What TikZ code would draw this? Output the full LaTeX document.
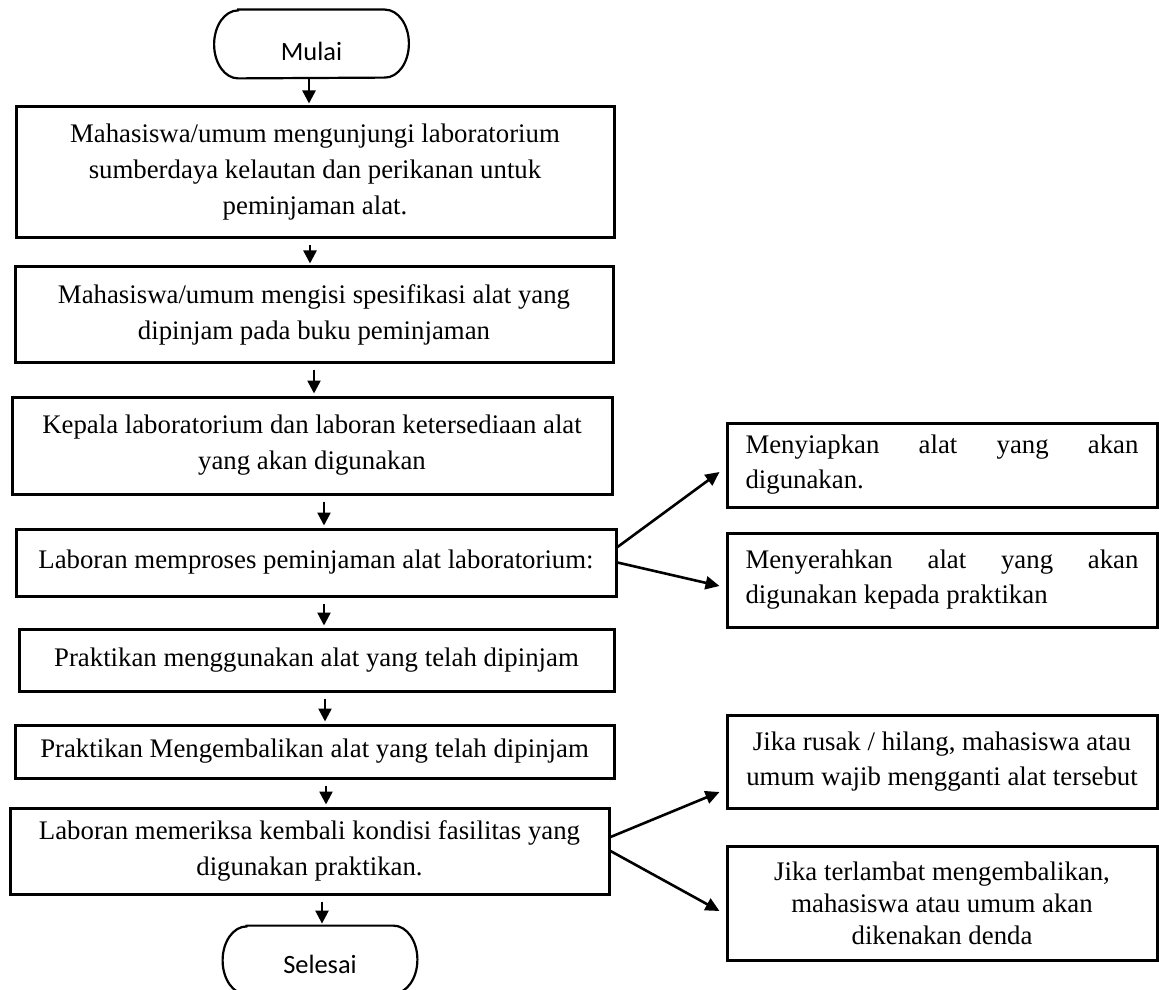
\documentclass[tikz,border=0pt]{standalone}
\usepackage{fontspec}
\setmainfont{Liberation Serif}
\newfontfamily\termfont{Carlito}
\usetikzlibrary{arrows.meta,calc}
\hyphenpenalty=10000
\tolerance=10000
% outline of a start/end terminator around a named node
\newcommand\termoutline[1]{%
  \draw[termline] ($(#1.north west)+(12pt,0)$) -- ($(#1.north east)+(-12pt,0)$)
    arc[start angle=90,end angle=-90,x radius=12pt,y radius=17pt]
    -- ($(#1.south west)+(12pt,0)$)
    arc[start angle=270,end angle=90,x radius=12pt,y radius=17pt] -- cycle;}
\begin{document}
\begin{tikzpicture}[x=0.5pt,y=-0.5pt,
  stepbox/.style={draw, line width=1.5pt, inner sep=0pt, align=center,
    font=\fontsize{13.4pt}{18pt}\selectfont},
  sidebox/.style={draw, line width=1.5pt, inner sep=0pt, minimum width=215pt,
    font=\fontsize{13.4pt}{17.5pt}\selectfont},
  termnode/.style={inner sep=0pt, minimum width=97pt, minimum height=34pt},
  termtext/.style={inner sep=0pt, font=\termfont\fontsize{13.2pt}{15pt}\selectfont},
  termline/.style={line width=1.1pt},
  flow/.style={line width=1.2pt, -{Triangle[length=6.5pt,width=6.5pt]},
    shorten <=3pt, shorten >=1pt},
  branch/.style={line width=1.3pt, -{Triangle[length=7pt,width=6.5pt]}}
]
\useasboundingbox (0,0) rectangle (1159,989);

% terminators
\node[termnode] (mulai) at (311.5,44) {};
\termoutline{mulai}
\node[termtext] (mulai-t) at (311.5,51) {Mulai};

\node[termnode] (selesai) at (320,960) {};
\termoutline{selesai}
\node[termtext] (selesai-t) at (320,964) {Selesai};

% main column
\node[stepbox, minimum width=299pt, minimum height=65.5pt] (b1) at (315,172.5)
  {Mahasiswa/umum mengunjungi laboratorium\\sumberdaya kelautan dan perikanan untuk\\peminjaman alat.};
\node[stepbox, minimum width=299pt, minimum height=47.5pt] (b2) at (314,314.5)
  {Mahasiswa/umum mengisi spesifikasi alat yang\\dipinjam pada buku peminjaman};
\node[stepbox, minimum width=300pt, minimum height=48.5pt] (b3) at (312,445.5)
  {Kepala laboratorium dan laboran ketersediaan alat\\yang akan digunakan};
\node[stepbox, minimum width=300pt, minimum height=33.5pt] (b4) at (316,562.5)
  {Laboran memproses peminjaman alat laboratorium:};
\node[stepbox, minimum width=297.5pt, minimum height=31pt] (b5) at (316.5,660)
  {Praktikan menggunakan alat yang telah dipinjam};
\node[stepbox, minimum width=299.5pt, minimum height=26.5pt] (b6) at (314.5,751.5)
  {Praktikan Mengembalikan alat yang telah dipinjam};
\node[stepbox, minimum width=299.5pt, minimum height=43pt] (b7) at (309.5,851)
  {Laboran memeriksa kembali kondisi fasilitas yang\\digunakan praktikan.};

% side column
\node[sidebox, minimum height=42pt, align=justify, text width=196.5pt] (r1) at (942,465)
  {Menyiapkan alat yang akan digunakan.};
\node[sidebox, minimum height=47pt, align=justify, text width=196.5pt] (r2) at (942,580)
  {Menyerahkan alat yang akan digunakan kepada praktikan};
\node[sidebox, minimum height=46.5pt, align=center] (r3) at (942,761.5)
  {Jika rusak / hilang, mahasiswa atau\\umum wajib mengganti alat tersebut};
\node[sidebox, minimum height=57pt, align=center,
  font=\fontsize{13.4pt}{16pt}\selectfont] (r4) at (942,903)
  {Jika terlambat mengembalikan,\\mahasiswa atau umum akan\\dikenakan denda};

% main flow
\draw[flow, shorten <=0pt] ([xshift=-1.25pt]mulai.south) -- ([xshift=-1.25pt]mulai.south |- b1.north);
\draw[flow] ([xshift=-2.5pt]b1.south) -- ([xshift=-2.5pt]b1.south |- b2.north);
\draw[flow] ([xshift=0pt]b2.south) -- ([xshift=0pt]b2.south |- b3.north);
\draw[flow] ([xshift=6pt]b3.south) -- ([xshift=6pt]b3.south |- b4.north);
\draw[flow] ([xshift=4pt]b4.south) -- ([xshift=4pt]b4.south |- b5.north);
\draw[flow] ([xshift=4.25pt]b5.south) -- ([xshift=4.25pt]b5.south |- b6.north);
\draw[flow] ([xshift=5.75pt]b6.south) -- ([xshift=5.75pt]b6.south |- b7.north);
\draw[flow] ([xshift=6.25pt]b7.south) -- ([xshift=6.25pt]b7.south |- selesai.north);

% branches
\draw[branch] ([yshift=7.75pt]b4.east) -- ([shift={(-3pt,-3.5pt)}]r1.west);
\draw[branch] (b4.east) -- ([shift={(-3pt,-3pt)}]r2.west);
\draw[branch] ([yshift=7pt]b7.east) -- ([shift={(-3pt,-15.25pt)}]r3.west);
\draw[branch] (b7.east) -- ([shift={(-3pt,-4pt)}]r4.west);
\end{tikzpicture}
\end{document}
